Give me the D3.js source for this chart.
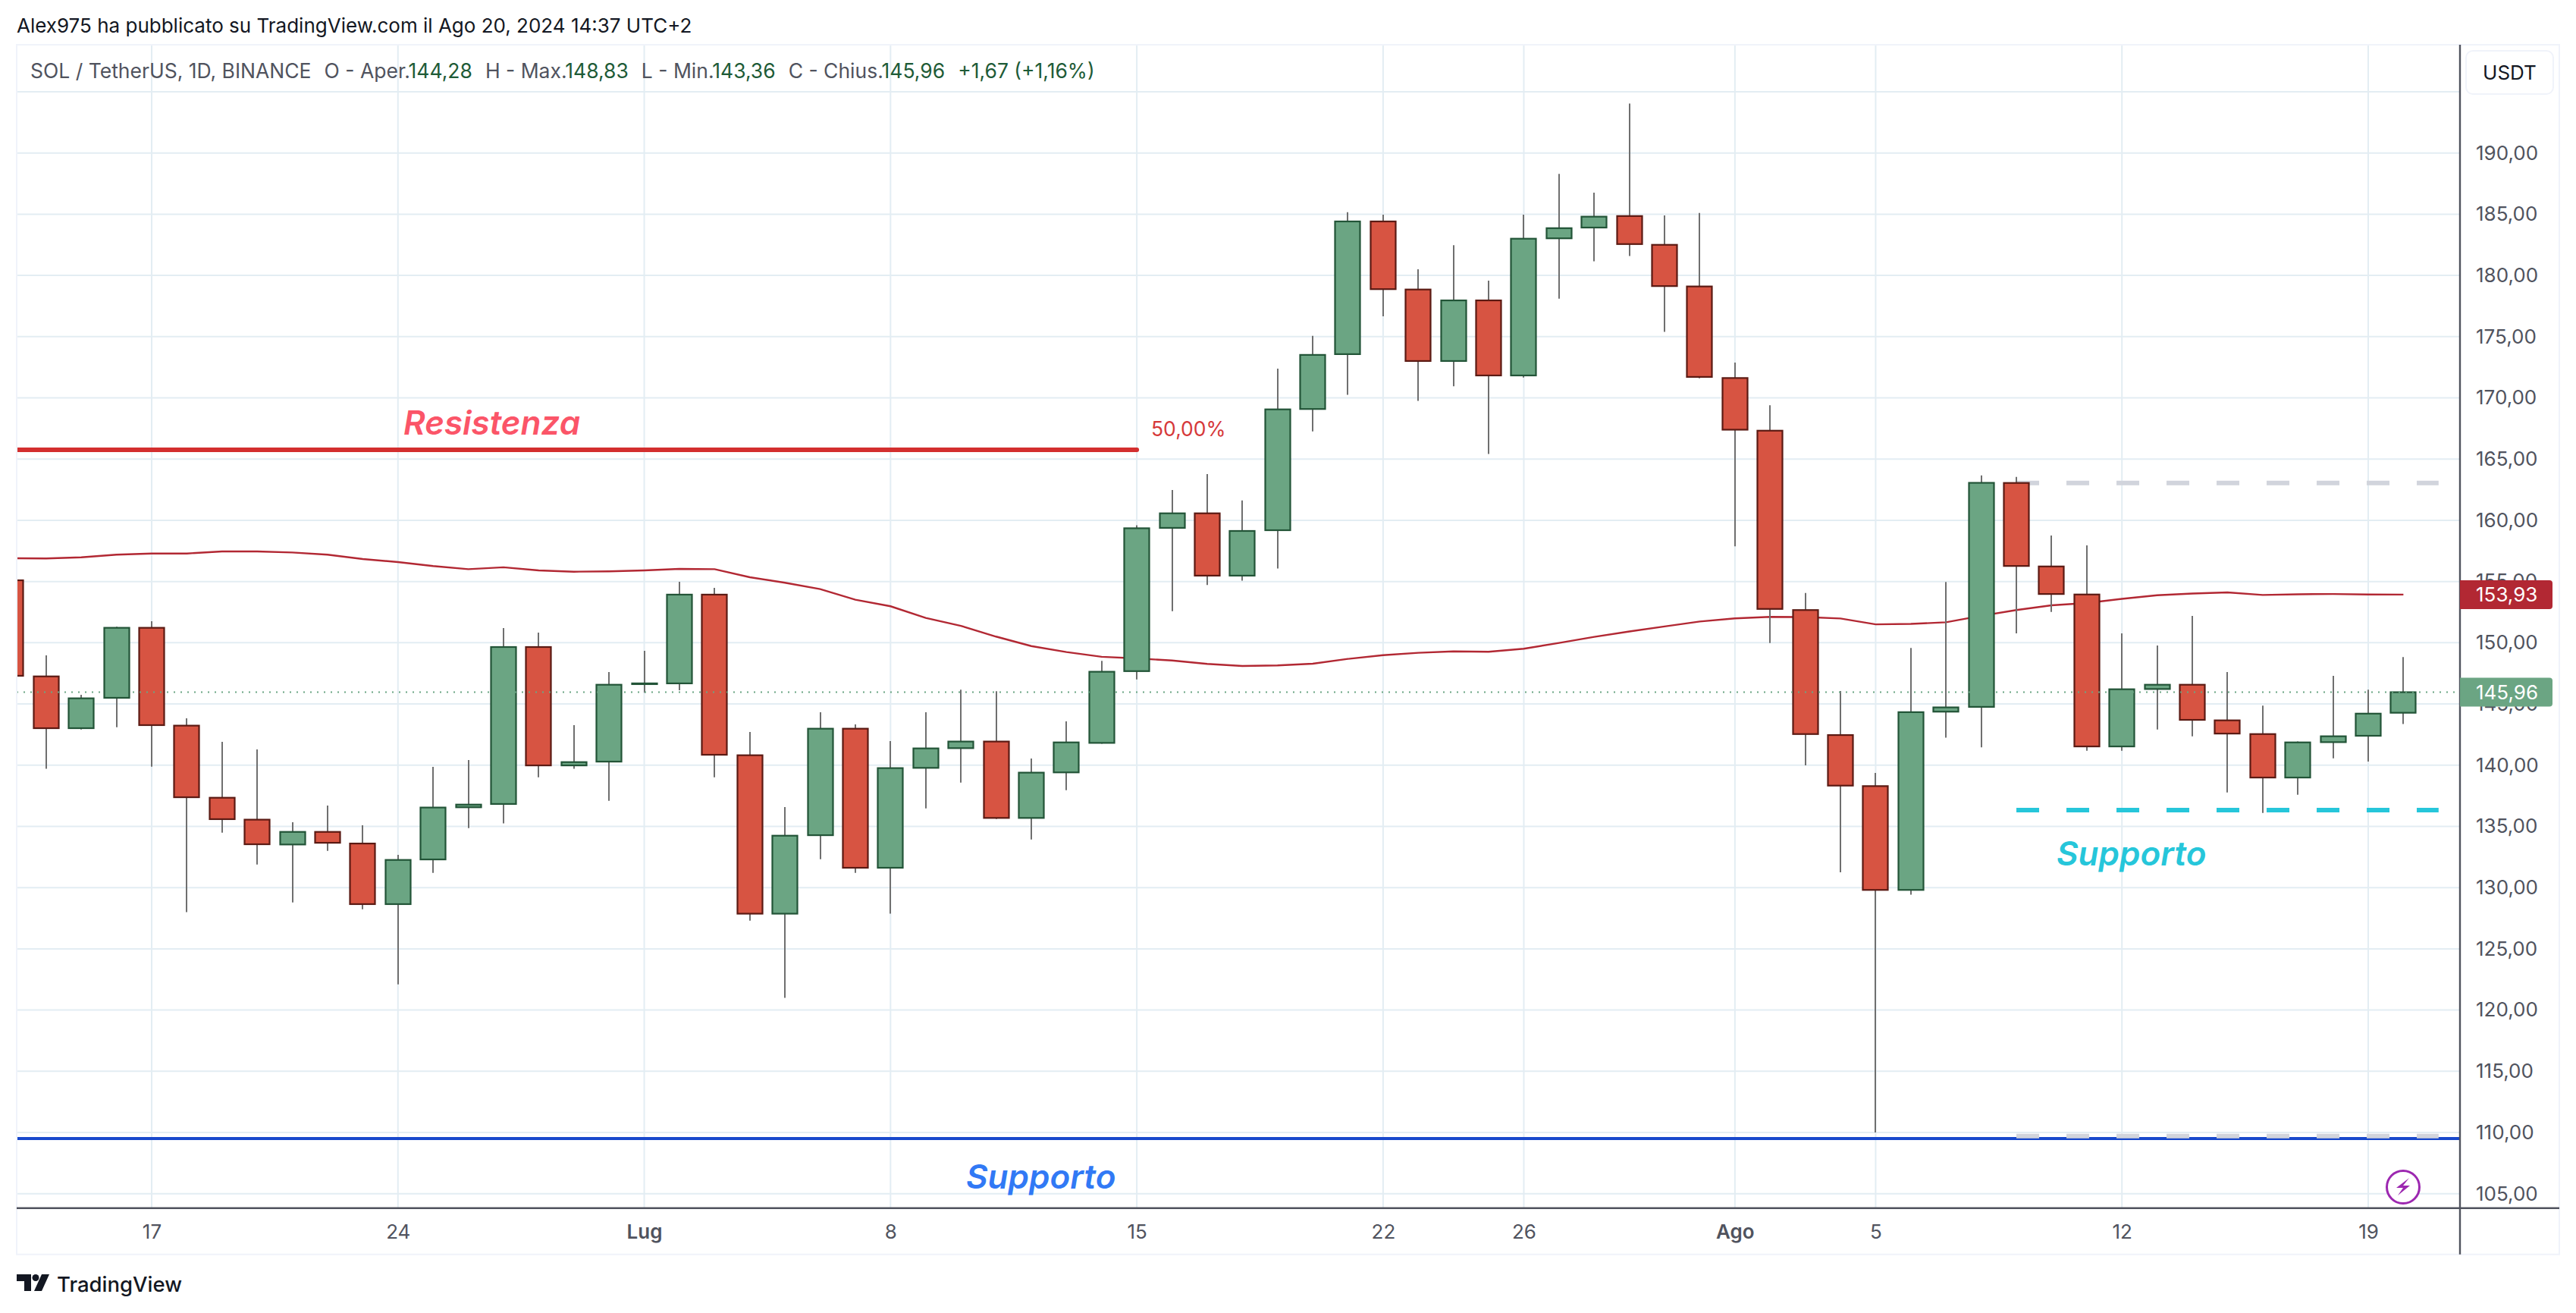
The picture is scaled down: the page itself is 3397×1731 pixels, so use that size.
<!DOCTYPE html>
<html>
<head>
<meta charset="utf-8">
<title>SOL / TetherUS</title>
<script src="https://cdn.jsdelivr.net/npm/d3@7/dist/d3.min.js"></script>
<style>
  html, body { margin: 0; padding: 0; background: #fff; }
  svg { display: block; font-family: Inter, "Noto Sans", sans-serif; }
</style>
</head>
<body>
<div id="chart"></div>
<script>
// Candele giornaliere, dal 13 giugno al 20 agosto 2024
const opens = [155.10,147.25,143.02,145.50,151.22,143.23,137.34,135.55,133.52,134.55,133.60,128.65,132.30,136.56,136.83,149.65,139.98,
  140.29,146.62,146.68,153.93,140.81,127.87,134.28,142.98,131.62,139.78,141.39,141.93,135.69,139.41,141.82,147.68,159.38,160.57,155.48,
  159.19,169.09,173.57,184.41,178.85,173.01,177.96,171.83,183.03,183.91,184.85,182.50,179.10,171.62,167.32,152.67,142.46,138.29,129.81,
  144.37,144.76,163.05,156.23,153.94,141.53,146.22,146.57,143.66,142.54,138.99,141.88,142.40,144.28];
const highs = [156.00,148.97,145.75,151.30,151.76,143.83,141.91,141.29,135.34,136.70,135.09,132.67,139.86,140.42,151.20,150.83,143.27,
  147.61,149.34,154.98,154.48,142.71,136.58,144.32,143.33,141.97,144.32,146.16,146.04,140.54,143.58,148.52,159.60,162.48,163.78,161.62,
  172.38,175.06,185.16,184.96,180.51,182.47,179.57,184.96,188.30,186.76,194.04,184.90,185.10,172.88,169.40,154.06,146.06,139.37,149.58,
  154.97,163.67,163.54,158.75,157.95,150.76,149.77,152.19,147.60,144.87,141.94,147.29,146.17,148.83];
const lows = [147.00,139.70,142.92,143.10,139.88,128.00,134.49,131.89,128.79,133.00,128.23,122.10,131.21,134.86,135.24,139.01,139.70,
  137.09,145.91,146.12,139.01,127.30,121.00,132.32,131.21,127.87,136.47,138.58,135.60,133.93,137.96,141.75,147.00,152.58,154.71,155.07,
  156.06,167.26,170.25,176.66,169.75,170.94,165.41,171.66,178.10,181.15,181.59,175.39,171.60,157.88,149.98,139.98,131.25,110.00,129.42,
  142.24,141.46,150.76,152.52,141.18,141.18,142.91,142.36,137.77,136.10,137.58,140.56,140.29,143.36];
const closes = [147.30,143.02,145.46,151.22,143.27,137.38,135.59,133.54,134.55,133.66,128.65,132.26,136.54,136.78,149.65,139.98,140.25,
  146.57,146.68,153.93,140.85,127.87,134.24,142.98,131.62,139.76,141.37,141.93,135.69,139.39,141.86,147.63,159.35,160.57,155.48,159.13,
  169.06,173.51,184.41,178.88,173.01,177.96,171.83,183.00,183.86,184.80,182.56,179.13,171.71,167.40,152.76,142.54,138.33,129.81,144.33,
  144.72,163.06,156.27,153.98,141.53,146.20,146.57,143.70,142.58,138.99,141.86,142.36,144.21,145.96];

// Media mobile (linea rossa)
const movingAverage = [156.90,156.88,156.98,157.19,157.29,157.29,157.46,157.46,157.37,157.19,156.84,156.59,156.26,156.01,156.16,155.91,155.80,
  155.83,155.91,156.03,156.01,155.35,154.90,154.38,153.51,152.98,152.03,151.38,150.50,149.73,149.24,148.85,148.72,148.55,148.27,148.10,
  148.15,148.29,148.68,148.98,149.18,149.29,149.26,149.51,149.98,150.48,150.92,151.33,151.73,151.99,152.11,152.10,151.98,151.50,151.54,
  151.67,152.20,152.67,153.06,153.24,153.58,153.88,154.02,154.11,153.90,153.96,153.98,153.94,153.93];

// Asse dei prezzi e asse del tempo
const priceTicks = [105,110,115,120,125,130,135,140,145,150,155,160,165,170,175,180,185,190];
const gridPrices = priceTicks.concat([195]);
const timeTicks = ["2024-06-17","2024-06-24","2024-07-01","2024-07-08","2024-07-15","2024-07-22","2024-07-26","2024-08-01","2024-08-05","2024-08-12","2024-08-19"];
const timeLabels = ["17","24","Lug","8","15","22","26","Ago","5","12","19"];
const boldLabels = ["Lug","Ago"];

// Disegni sul grafico
const resistanceLevel = 165.76;
const supportLevel = 109.50;
const dashedLevels = [163.05, 109.70];
const dashedSupport = 136.33;
const lastPrice = 145.96;
const lastAverage = 153.93;

const parseDay = d3.utcParse("%Y-%m-%d");
const firstDay = parseDay("2024-06-13");
const days = opens.map((d, i) => d3.utcDay.offset(firstDay, i));
const candles = opens.map((o, i) => ({ day: days[i], o: o, h: highs[i], l: lows[i], c: closes[i] }));
const comma = v => d3.format(".2f")(v).replace(".", ",");

const chartWidth = 3397, chartHeight = 1731;
const plotLeft = 22, plotRight = 3244, frameRight = 3375, plotTop = 59, plotBottom = 1592.7, frameBottom = 1653.7;

const svg = d3.select("#chart").append("svg").attr("width", chartWidth).attr("height", chartHeight);

const x = d3.scaleUtc().domain([parseDay("2024-06-17"), parseDay("2024-08-19")]).range([200, 3123]);
const y = d3.scaleLinear().domain([190, 105]).range([201.7, 1573.7]);

svg.append("defs").append("clipPath").attr("id", "plot")
  .append("rect").attr("x", plotLeft).attr("y", plotTop).attr("width", plotRight - plotLeft).attr("height", plotBottom - plotTop);

// Griglia
const grid = svg.append("g");
grid.selectAll("line.h").data(gridPrices).enter().append("line").attr("class", "h")
  .attr("x1", plotLeft).attr("x2", plotRight).attr("y1", d => y(d)).attr("y2", d => y(d))
  .attr("stroke", "#e3edf3").attr("stroke-width", 2);
grid.selectAll("line.v").data(timeTicks).enter().append("line").attr("class", "v")
  .attr("x1", d => x(parseDay(d))).attr("x2", d => x(parseDay(d))).attr("y1", plotTop).attr("y2", plotBottom)
  .attr("stroke", "#e3edf3").attr("stroke-width", 2);

const plot = svg.append("g").attr("clip-path", "url(#plot)");

// Livello blu, linee grigie e media mobile stanno sotto le candele
plot.append("line").attr("x1", plotLeft).attr("x2", plotRight).attr("y1", y(supportLevel)).attr("y2", y(supportLevel))
  .attr("stroke", "#1848cc").attr("stroke-width", 4);

const dashStart = days[57], dashEnd = d3.utcDay.offset(days[68], 1);
plot.selectAll("line.grey").data(dashedLevels).enter().append("line").attr("class", "grey")
  .attr("x1", x(dashStart)).attr("x2", x(dashEnd)).attr("y1", d => y(d)).attr("y2", d => y(d))
  .attr("stroke", "#d1d4dc").attr("stroke-width", 6).attr("stroke-dasharray", "30,36");

const maLine = d3.line().x((d, i) => x(days[i])).y(d => y(d));
plot.append("path").datum(movingAverage).attr("d", maLine)
  .attr("fill", "none").attr("stroke", "#b22833").attr("stroke-width", 2.4);

// Candele
const candle = plot.selectAll("g.candle").data(candles).enter().append("g").attr("class", "candle");
candle.append("line")
  .attr("x1", d => Math.round(x(d.day))).attr("x2", d => Math.round(x(d.day))).attr("y1", d => y(d.h)).attr("y2", d => y(d.l))
  .attr("stroke", "#6f6f6f").attr("stroke-width", 2);
candle.append("rect")
  .attr("x", d => Math.round(x(d.day)) - 16.5).attr("width", 33)
  .attr("y", d => y(Math.max(d.o, d.c)))
  .attr("height", d => Math.max(1, Math.abs(y(d.o) - y(d.c))))
  .attr("fill", d => d.c >= d.o ? "#6ba583" : "#d75442")
  .attr("stroke", d => d.c >= d.o ? "#225437" : "#5b1a13")
  .attr("stroke-width", 2.2);

// Ultimo prezzo
plot.append("line").attr("x1", plotLeft).attr("x2", plotRight).attr("y1", y(lastPrice)).attr("y2", y(lastPrice))
  .attr("stroke", "#6ba583").attr("stroke-width", 2).attr("stroke-dasharray", "2,7");

// Resistenza e supporto tratteggiato
plot.append("line").attr("x1", plotLeft).attr("x2", x(days[32])).attr("y1", y(resistanceLevel)).attr("y2", y(resistanceLevel))
  .attr("stroke", "#d32f2f").attr("stroke-width", 6).attr("stroke-linecap", "round");
plot.append("line").attr("x1", x(dashStart)).attr("x2", x(dashEnd)).attr("y1", y(dashedSupport)).attr("y2", y(dashedSupport))
  .attr("stroke", "#26c6da").attr("stroke-width", 6).attr("stroke-dasharray", "30,36");

// Etichette dei disegni
svg.append("text").attr("x", 1518).attr("y", 575).attr("fill", "#d6393a").attr("font-size", 26.5).text("50,00%");
const notes = [
  { t: "Resistenza", x: 532, y: 572.7, c: "#fb5568" },
  { t: "Supporto", x: 1274, y: 1567, c: "#3179f5" },
  { t: "Supporto", x: 2712, y: 1141, c: "#26c6da" }
];
svg.selectAll("text.note").data(notes).enter().append("text").attr("class", "note")
  .attr("x", d => d.x).attr("y", d => d.y).attr("fill", d => d.c)
  .attr("font-size", 44).attr("font-weight", 600).attr("font-style", "italic").text(d => d.t);

// Assi
const yAxis = d3.axisRight(y).tickValues(priceTicks).tickFormat(comma).tickSize(0).tickPadding(21);
const yG = svg.append("g").attr("transform", `translate(${plotRight},0)`).call(yAxis);
yG.select(".domain").remove();
yG.selectAll("text").attr("font-family", "Inter").attr("font-size", 26).attr("fill", "#50535e");

const xAxis = d3.axisBottom(x).tickValues(timeTicks.map(parseDay)).tickFormat((d, i) => timeLabels[i]).tickSize(0).tickPadding(22);
const xG = svg.append("g").attr("transform", `translate(0,${plotBottom})`).call(xAxis);
xG.select(".domain").remove();
xG.selectAll("text").attr("font-family", "Inter").attr("font-size", 26).attr("fill", "#50535e")
  .attr("font-weight", (d, i) => boldLabels.includes(timeLabels[i]) ? 600 : 400);

// Cornice e linee degli assi
svg.append("rect").attr("x", plotLeft).attr("y", plotTop).attr("width", frameRight - plotLeft).attr("height", frameBottom - plotTop)
  .attr("fill", "none").attr("stroke", "#f0f3fa").attr("stroke-width", 2);
svg.append("line").attr("x1", plotRight).attr("x2", plotRight).attr("y1", plotTop).attr("y2", frameBottom).attr("stroke", "#50535e").attr("stroke-width", 2.4);
svg.append("line").attr("x1", plotLeft).attr("x2", frameRight).attr("y1", plotBottom).attr("y2", plotBottom).attr("stroke", "#50535e").attr("stroke-width", 2.4);

// Etichette di prezzo a destra
const tags = [{ v: lastAverage, c: "#b22833" }, { v: lastPrice, c: "#6ba583" }];
const tag = svg.selectAll("g.tag").data(tags).enter().append("g").attr("class", "tag");
tag.append("path")
  .attr("d", d => `M${plotRight},${y(d.v) - 19}H3362a4,4 0 0 1 4,4V${y(d.v) + 15}a4,4 0 0 1 -4,4H${plotRight}Z`)
  .attr("fill", d => d.c);
tag.append("text").attr("x", plotRight + 21).attr("y", d => y(d.v) + 9.5).attr("fill", "#fff").attr("font-size", 26).text(d => comma(d.v));

// Intestazione
svg.append("text").attr("x", 22).attr("y", 43).attr("fill", "#131722").attr("font-size", 26)
  .text("Alex975 ha pubblicato su TradingView.com il Ago 20, 2024 14:37 UTC+2");

const legend = [
  ["SOL / TetherUS, 1D, BINANCE", 0], ["O - Aper.", 1], ["144,28", 2], ["H - Max.", 1], ["148,83", 2],
  ["L - Min.", 1], ["143,36", 2], ["C - Chius.", 1], ["145,96", 2], ["+1,67 (+1,16%)", 3]
];
const legendText = svg.append("text").attr("x", 40).attr("y", 103).attr("font-size", 26.5);
legend.forEach(d => {
  legendText.append("tspan")
    .attr("dx", d[1] === 1 || d[1] === 3 ? 17 : 0)
    .attr("fill", d[1] < 2 ? "#50535e" : "#1e5b37")
    .text(d[0]);
});

// Pulsante valuta
svg.append("rect").attr("x", 3252).attr("y", 67).attr("width", 115).attr("height", 57).attr("rx", 9)
  .attr("fill", "#fff").attr("stroke", "#f0f3fa").attr("stroke-width", 2);
svg.append("text").attr("x", 3309.5).attr("y", 105).attr("text-anchor", "middle").attr("fill", "#131722").attr("font-size", 26).text("USDT");

// Icona viola
const icon = svg.append("g").attr("transform", "translate(3169,1565)");
icon.append("circle").attr("r", 21.5).attr("fill", "#fff").attr("stroke", "#9c27b0").attr("stroke-width", 3);
icon.append("path").attr("d", "M8,-12L-9,1H0L-7,11L9,-2H0Z").attr("fill", "#9c27b0");

// Logo
const logo = svg.append("g").attr("transform", "translate(22,1680)").attr("fill", "#131722");
logo.append("path").attr("d", "M0,0H19V22H10V9H0Z");
logo.append("circle").attr("cx", 25).attr("cy", 4.5).attr("r", 4.5);
logo.append("path").attr("d", "M33,0H43L33,22H23Z");
svg.append("text").attr("x", 75).attr("y", 1703).attr("fill", "#131722").attr("font-size", 27.5).attr("font-weight", 500).text("TradingView");
</script>
</body>
</html>
